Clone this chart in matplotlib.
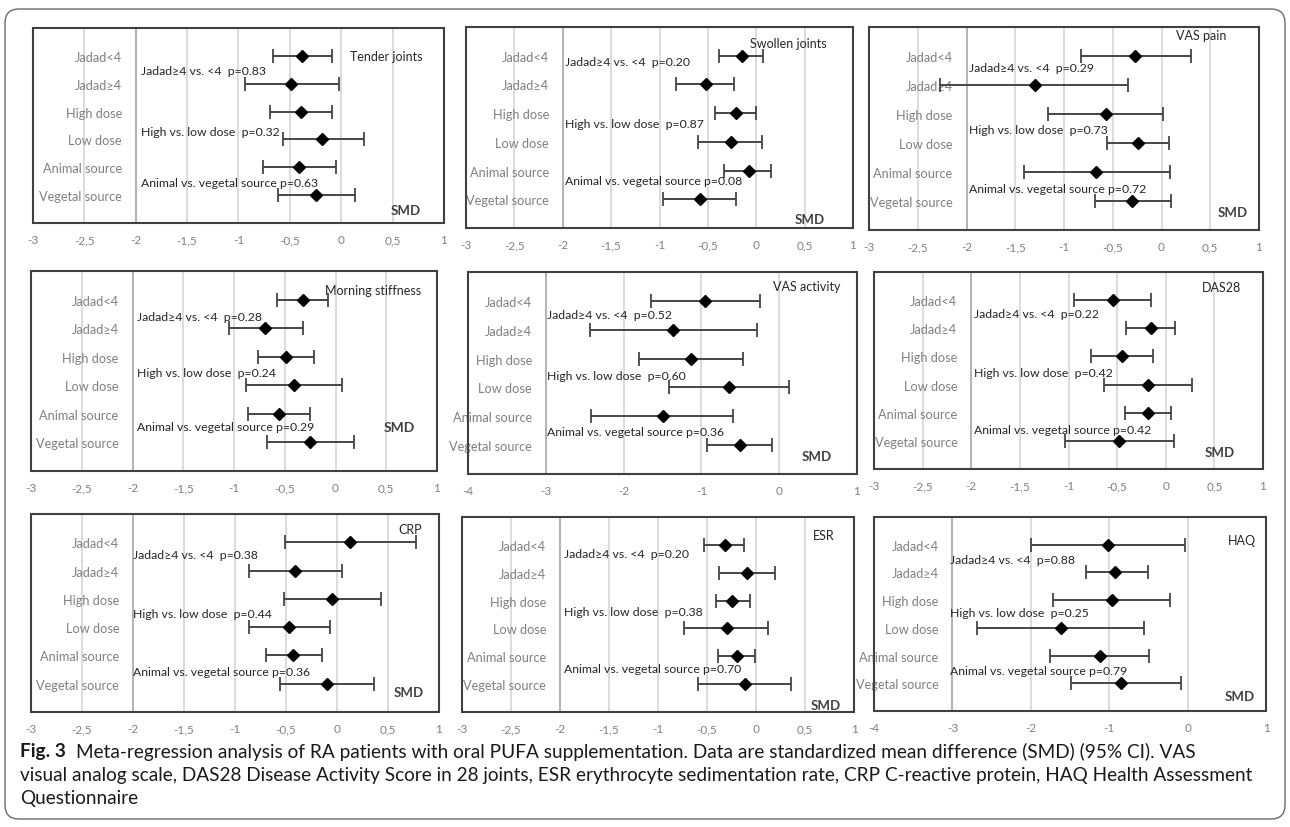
import numpy as np
import matplotlib
matplotlib.use("Agg")
import matplotlib.pyplot as plt
from matplotlib.patches import FancyBboxPatch, Rectangle
from matplotlib.transforms import IdentityTransform
from matplotlib.ticker import FuncFormatter

plt.rcParams['font.family'] = ['Lato', 'DejaVu Sans']

rows = ["Jadad<4", "Jadad≥4", "High dose", "Low dose", "Animal source", "Vegetal source"]
comparisons = ["Jadad≥4 vs. <4  p=", "High vs. low dose  p=", "Animal vs. vegetal source p="]

# SMD with 95% CI per subgroup
tender_smd = [-0.38, -0.49, -0.39, -0.19, -0.41, -0.25]
tender_lo = [-0.66, -0.94, -0.69, -0.57, -0.76, -0.62]
tender_hi = [-0.09, -0.02, -0.09, 0.22, -0.05, 0.13]
tender_p = ["0.83", "0.32", "0.63"]

swollen_smd = [-0.15, -0.52, -0.21, -0.26, -0.08, -0.58]
swollen_lo = [-0.38, -0.83, -0.43, -0.60, -0.33, -0.96]
swollen_hi = [0.07, -0.23, 0.00, 0.06, 0.15, -0.21]
swollen_p = ["0.20", "0.87", "0.08"]

vaspain_smd = [-0.27, -1.30, -0.57, -0.24, -0.67, -0.30]
vaspain_lo = [-0.83, -2.27, -1.16, -0.56, -1.41, -0.68]
vaspain_hi = [0.30, -0.34, 0.02, 0.08, 0.09, 0.10]
vaspain_p = ["0.29", "0.73", "0.72"]

morning_smd = [-0.32, -0.69, -0.49, -0.41, -0.56, -0.25]
morning_lo = [-0.58, -1.05, -0.76, -0.88, -0.86, -0.67]
morning_hi = [-0.07, -0.32, -0.21, 0.06, -0.25, 0.18]
morning_p = ["0.28", "0.24", "0.29"]

vasact_smd = [-0.96, -1.37, -1.14, -0.65, -1.50, -0.50]
vasact_lo = [-1.65, -2.43, -1.80, -1.42, -2.42, -0.93]
vasact_hi = [-0.25, -0.29, -0.47, 0.12, -0.59, -0.09]
vasact_p = ["0.52", "0.60", "0.36"]

das28_smd = [-0.54, -0.15, -0.45, -0.18, -0.18, -0.48]
das28_lo = [-0.94, -0.41, -0.77, -0.63, -0.42, -1.04]
das28_hi = [-0.15, 0.10, -0.13, 0.27, 0.05, 0.08]
das28_p = ["0.22", "0.42", "0.42"]

crp_smd = [0.13, -0.41, -0.05, -0.47, -0.43, -0.10]
crp_lo = [-0.51, -0.86, -0.52, -0.86, -0.70, -0.56]
crp_hi = [0.77, 0.05, 0.43, -0.07, -0.15, 0.36]
crp_p = ["0.38", "0.44", "0.36"]

esr_smd = [-0.32, -0.09, -0.24, -0.30, -0.19, -0.11]
esr_lo = [-0.53, -0.38, -0.41, -0.73, -0.39, -0.59]
esr_hi = [-0.12, 0.19, -0.06, 0.12, -0.01, 0.36]
esr_p = ["0.20", "0.38", "0.70"]

haq_smd = [-1.01, -0.92, -0.96, -1.62, -1.12, -0.85]
haq_lo = [-2.00, -1.30, -1.72, -2.69, -1.76, -1.49]
haq_hi = [-0.03, -0.50, -0.23, -0.55, -0.49, -0.08]
haq_p = ["0.88", "0.25", "0.79"]

titles = ["Tender joints", "Swollen joints", "VAS pain", "Morning stiffness", "VAS activity",
          "DAS28", "CRP", "ESR", "HAQ"]
smd = [tender_smd, swollen_smd, vaspain_smd, morning_smd, vasact_smd, das28_smd, crp_smd, esr_smd, haq_smd]
lo = [tender_lo, swollen_lo, vaspain_lo, morning_lo, vasact_lo, das28_lo, crp_lo, esr_lo, haq_lo]
hi = [tender_hi, swollen_hi, vaspain_hi, morning_hi, vasact_hi, das28_hi, crp_hi, esr_hi, haq_hi]
pvals = [tender_p, swollen_p, vaspain_p, morning_p, vasact_p, das28_p, crp_p, esr_p, haq_p]

# layout: box in pixels (l, t, r, b), x min, title pos, comparison text x / ys, SMD label pos
layout = [
    dict(box=(33, 29, 444, 224), xmin=-3, title=(0.085, 6.0), tx=-1.95, ty=(5.49, 3.28, 1.46), smd=(0.63, 0.46)),
    dict(box=(466, 28, 853, 229), xmin=-3, title=(-0.06, 6.45), tx=-1.98, ty=(5.79, 3.65, 1.65), smd=(0.55, 0.31)),
    dict(box=(869, 28, 1259, 231), xmin=-3, title=(0.15, 6.73), tx=-1.97, ty=(5.62, 3.48, 1.44), smd=(0.73, 0.62)),
    dict(box=(31, 272, 437, 472), xmin=-3, title=(-0.10, 6.35), tx=-1.96, ty=(5.42, 3.44, 1.55), smd=(0.63, 1.55)),
    dict(box=(468, 273, 857, 475), xmin=-4, title=(-0.08, 6.5), tx=-2.99, ty=(5.52, 3.42, 1.46), smd=(0.48, 0.62)),
    dict(box=(874, 273, 1263, 470), xmin=-3, title=(0.37, 6.48), tx=-1.97, ty=(5.51, 3.42, 1.40), smd=(0.55, 0.60)),
    dict(box=(31, 515, 439, 713), xmin=-3, title=(0.60, 6.47), tx=-2.0, ty=(5.57, 3.49, 1.43), smd=(0.70, 0.71)),
    dict(box=(462, 518, 854, 713), xmin=-3, title=(0.585, 6.36), tx=-1.96, ty=(5.68, 3.59, 1.57), smd=(0.71, 0.25)),
    dict(box=(874, 518, 1266, 712), xmin=-4, title=(0.515, 6.18), tx=-3.03, ty=(5.46, 3.55, 1.45), smd=(0.66, 0.55)),
]

W, H = 1290, 828
fig = plt.figure(figsize=(W / 100, H / 100), dpi=100)
fig.patch.set_facecolor('white')

outer = FancyBboxPatch((5, 8), 1280, 810, boxstyle="round,pad=0,rounding_size=14",
                       transform=IdentityTransform(), fill=False, ec='#6a6a6a', lw=1.0)
fig.add_artist(outer)

comma = FuncFormatter(lambda v, pos: ("%g" % (0 if abs(v) < 1e-9 else v)).replace('.', ','))
ypos = np.arange(6, 0, -1)

for i, lay in enumerate(layout):
    l, t, r, b = lay['box']
    ax = fig.add_axes([l / W, 1 - b / H, (r - l) / W, (b - t) / H])
    xmin = lay['xmin']
    step = 0.5 if xmin == -3 else 1.0
    cross = xmin + 1
    ax.set_xlim(xmin, 1)
    ax.set_ylim(0, 7)
    ax.set_xticks(np.arange(xmin, 1.001, step))
    ax.xaxis.set_major_formatter(comma)
    ax.grid(axis='x', color='#d9d9d9', lw=1.3, zorder=0)
    ax.set_axisbelow(True)

    for s in ['top', 'right', 'bottom']:
        ax.spines[s].set_visible(False)
    ax.spines['left'].set_position(('data', cross))
    ax.spines['left'].set_color('#b0b0b0')
    ax.spines['left'].set_linewidth(1.3)
    ax.add_patch(Rectangle((0, 0), 1, 1, transform=ax.transAxes, fill=False,
                           ec='#404040', lw=1.5, clip_on=False, zorder=6))

    ax.set_yticks(ypos)
    ax.set_yticklabels(rows)
    ax.tick_params(axis='y', length=0, pad=10, labelsize=9.2, labelcolor='#808080')
    ax.tick_params(axis='x', length=0, pad=8, labelsize=8.5, labelcolor='#808080')

    m = np.array(smd[i])
    ax.errorbar(m, ypos, xerr=[m - np.array(lo[i]), np.array(hi[i]) - m], fmt='D',
                color='black', ms=6, ecolor='#454545', elinewidth=1.4, capsize=5,
                capthick=1.3, zorder=4)

    ax.text(lay['title'][0], lay['title'][1], titles[i], fontsize=9, color='#262626',
            ha='left', va='center')
    for k in range(3):
        ax.text(lay['tx'], lay['ty'][k], comparisons[k] + pvals[i][k], fontsize=8.8,
                color='#262626', ha='left', va='center')
    fs = 10 if i == 3 else 9.5
    ax.text(lay['smd'][0], lay['smd'][1], "SMD", fontsize=fs, fontweight='bold',
            color='#404040', ha='center', va='center')

cap_fs = 13.7
fig.text(20 / W, 1 - 752 / H, "Fig. 3", fontsize=cap_fs, fontweight='bold',
         color='#1a1a1a', va='center')
fig.text(76 / W, 1 - 752 / H,
         "Meta-regression analysis of RA patients with oral PUFA supplementation. Data are standardized "
         "mean difference (SMD) (95% CI). VAS",
         fontsize=cap_fs, color='#1a1a1a', va='center')
fig.text(20 / W, 1 - 776 / H,
         "visual analog scale, DAS28 Disease Activity Score in 28 joints, ESR erythrocyte sedimentation rate, "
         "CRP C-reactive protein, HAQ Health Assessment",
         fontsize=cap_fs, color='#1a1a1a', va='center')
fig.text(20 / W, 1 - 799 / H, "Questionnaire", fontsize=cap_fs,
         color='#1a1a1a', va='center')

fig.savefig("out.png", dpi=100)
